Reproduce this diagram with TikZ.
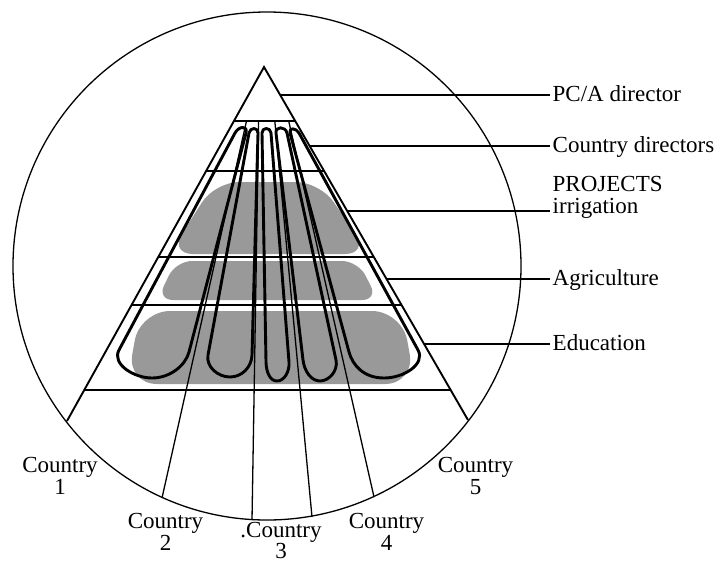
\documentclass[tikz,border=0pt]{standalone}
\usepackage{fontspec}
\setmainfont{Liberation Serif}
\usetikzlibrary{calc}
\begin{document}
\begin{tikzpicture}[x=1pt,y=-1pt,
  frame/.style={line width=1.3pt},
  tri/.style={line width=1.9pt},
  ctry/.style={line width=1.3pt},
  lead/.style={line width=1.4pt},
  loopline/.style={line width=2.9pt, line join=round},
  blob/.style={fill=black!40, draw=none, rounded corners=24pt},
  lab/.style={font=\fontsize{23}{22}\selectfont, inner sep=0pt},
  rlab/.style={lab, anchor=west, inner sep=2.5pt, text height=16pt, text depth=4pt},
  clab/.style={lab, anchor=north, align=center},
]
\useasboundingbox (0,0) rectangle (719,563);
\fill[white] (0,0) rectangle (719,563);

% shaded project blobs
\fill[blob] (215,182) -- (320,182) -- (369,254) -- (169,254) -- cycle;
\fill[blob, rounded corners=16pt] (176,261) -- (358,261) -- (378,300) -- (157,300) -- cycle;
\fill[blob, rounded corners=30pt] (140,311) -- (402,311) -- (415,384) -- (127,384) -- cycle;

% circle
\draw[frame] (267,266) circle[radius=254];

% key points
\coordinate (apex) at (264,67);
\coordinate (c1) at (67,421);
\coordinate (c5) at (468,420);
\coordinate (a0) at (162,498); \coordinate (a1) at (246.5,121);
\coordinate (b0) at (252,520); \coordinate (b1) at (258.6,121);
\coordinate (d0) at (312,517); \coordinate (d1) at (274.8,121);
\coordinate (e0) at (374,497); \coordinate (e1) at (288.7,121);

% country lines
\draw[ctry] (a0) -- (a1);
\draw[ctry] (b0) -- (b1);
\draw[ctry] (d0) -- (d1);
\draw[ctry] (e0) -- (e1);

% tiers
\draw[tri] (233.95,121) -- (295.2,121);
\draw[tri] (206.1,171) -- (324.1,171);
\draw[tri] (158.3,257) -- (373.8,257);
\draw[tri] (131.6,305) -- (401.5,305);
\draw[tri] (84.3,390) -- (450.7,390);

% triangle
\draw[tri, line join=miter] (c1) -- (apex) -- (c5);

% loops
\draw[loopline] (235,133) -- (119,350) .. controls ($(119,350)!-16pt!(235,133)$) and (134,378) .. (152,378)
   .. controls (170,378) and ($(189,352)!-14pt!(246,133)$) .. (189,352) -- (246,133)
   .. controls ($(246,133)!-8pt!(189,352)$) and ($(235,133)!-8pt!(119,350)$) .. cycle;
\draw[loopline] (249,133) -- (208,355) .. controls ($(208,355)!-12pt!(249,133)$) and (218,377) .. (230,377)
   .. controls (242,377) and ($(252,355)!-12pt!(258,133)$) .. (252,355) -- (258,133)
   .. controls ($(258,133)!-6pt!(252,355)$) and ($(249,133)!-6pt!(208,355)$) .. cycle;
\draw[loopline] (262,133) -- (266,362) .. controls ($(266,362)!-10pt!(262,133)$) and (270,381) .. (277,381)
   .. controls (284,381) and ($(289,362)!-10pt!(271,133)$) .. (289,362) -- (271,133)
   .. controls ($(271,133)!-6pt!(289,362)$) and ($(262,133)!-6pt!(266,362)$) .. cycle;
\draw[loopline] (276,133) -- (303,360) .. controls ($(303,360)!-11pt!(276,133)$) and (311,381) .. (320,381)
   .. controls (329,381) and ($(336,360)!-11pt!(287,133)$) .. (336,360) -- (287,133)
   .. controls ($(287,133)!-7pt!(336,360)$) and ($(276,133)!-7pt!(303,360)$) .. cycle;
\draw[loopline] (290,133) -- (349,352) .. controls ($(349,352)!-14pt!(290,133)$) and (364,378) .. (384,378)
   .. controls (404,378) and ($(418,350)!-16pt!(299,133)$) .. (418,350) -- (299,133)
   .. controls ($(299,133)!-6pt!(418,350)$) and ($(290,133)!-6pt!(349,352)$) .. cycle;

% right labels
\node[rlab] (pca) at (550,95) {PC/A director};
\node[rlab] (cd) at (550,146) {Country directors};
\node[lab, anchor=base west, inner sep=0pt, xshift=2.5pt] (proj) at (550,191) {PROJECTS};
\node[rlab, text height=10pt, text depth=6pt] (irr) at (550,211) {irrigation};
\node[rlab] (agr) at (550,279) {Agriculture};
\node[rlab] (edu) at (550,344) {Education};

\coordinate (pcaL) at (280.2,95);
\coordinate (cdL) at (309.7,146);
\coordinate (irrL) at (347.3,211);
\coordinate (agrL) at (386.5,279);
\coordinate (eduL) at (424.1,344);
\draw[lead] (pcaL) -- (pca.west);
\draw[lead] (cdL) -- (cd.west);
\draw[lead] (irrL) -- (irr.west);
\draw[lead] (agrL) -- (agr.west);
\draw[lead] (eduL) -- (edu.west);

% country labels
\node[clab] (k1) at (60,457) {Country\\1};
\node[clab] (k2) at (165.5,513) {Country\\2};
\node[clab, font=\fontsize{23}{21}\selectfont] (k3) at (281,522) {.Country\\3};
\node[clab] (k4) at (386.5,513) {Country\\4};
\node[clab] (k5) at (475.5,457) {Country\\5};
\end{tikzpicture}
\end{document}
